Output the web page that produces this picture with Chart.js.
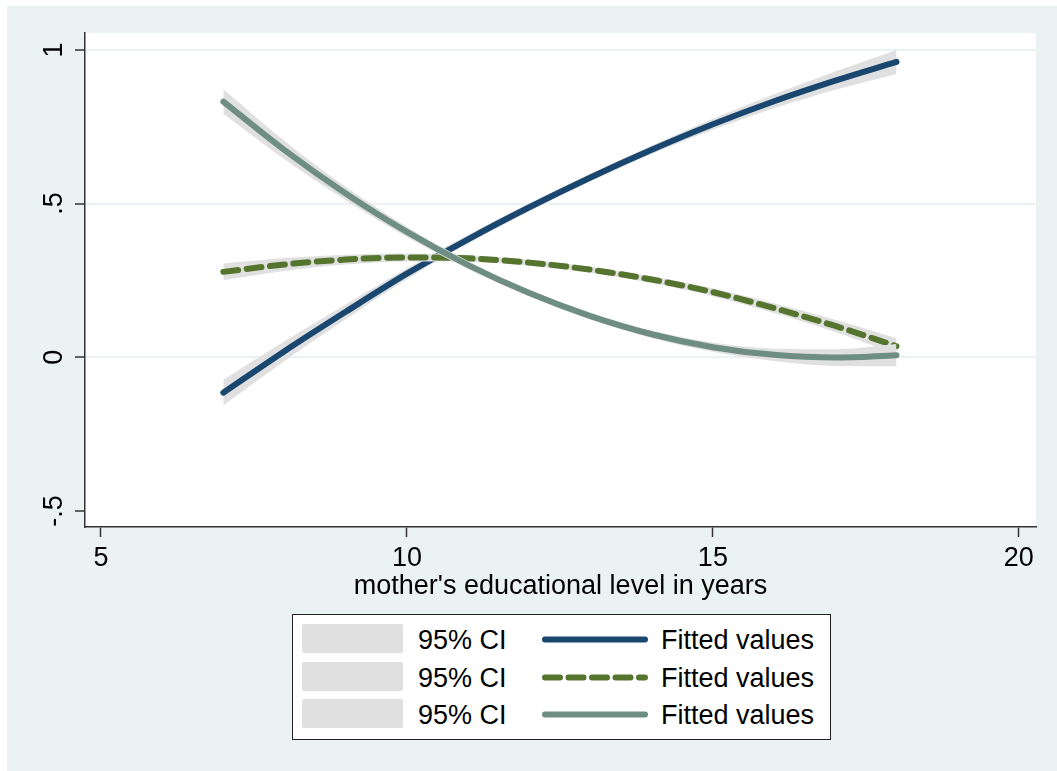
<!DOCTYPE html>
<html>
<head>
<meta charset="utf-8">
<title>Fitted values by mother's education</title>
<script src="https://cdn.jsdelivr.net/npm/chart.js@4.4.0/dist/chart.umd.min.js"></script>
<style>
  body { margin: 0; background: #fff; font-family: "Liberation Sans", Arial, sans-serif; }
  #frame { position: absolute; left: 7px; top: 6px; width: 1050px; height: 765px; background: #eaf2f3; }
  #chart { position: absolute; left: 0; top: 0; }
  #legend { position: absolute; left: 292px; top: 614px; width: 537px; height: 124px; background: #fff; border: 1px solid #222; }
  .row { position: absolute; left: 0; width: 100%; height: 29px; }
  .swatch { position: absolute; left: 9px; top: 0; width: 101px; height: 29px; background: #e0e0e0; border-radius: 2px; }
  .label { position: absolute; top: 2px; line-height: 29px; font-size: 27px; color: #000; white-space: nowrap; }
  .sample { position: absolute; left: 249px; top: 0; }
</style>
</head>
<body>
<div id="frame"></div>
<canvas id="chart" width="1057" height="600"></canvas>
<div id="legend"></div>

<script>
// mother's years of education (x) and the three quadratic fits with their 95% bands
const years = [7, 8, 9, 10, 11, 12, 13, 14, 15, 16, 17, 18]

const fitNavy    = [-0.115, 0.020, 0.148, 0.272, 0.384, 0.488, 0.585, 0.675, 0.758, 0.833, 0.900, 0.961]
const ciNavyLow  = [-0.157, -0.012, 0.124, 0.254, 0.370, 0.476, 0.573, 0.661, 0.740, 0.810, 0.870, 0.922]
const ciNavyHigh = [-0.073, 0.052, 0.172, 0.290, 0.398, 0.500, 0.597, 0.689, 0.776, 0.856, 0.930, 1.000]

const fitGreen    = [0.278, 0.302, 0.318, 0.325, 0.322, 0.308, 0.285, 0.253, 0.212, 0.160, 0.102, 0.036]
const ciGreenLow  = [0.251, 0.281, 0.302, 0.312, 0.311, 0.298, 0.275, 0.242, 0.199, 0.144, 0.082, 0.010]
const ciGreenHigh = [0.305, 0.323, 0.334, 0.338, 0.333, 0.318, 0.295, 0.264, 0.225, 0.176, 0.122, 0.062]

const fitTeal    = [0.832, 0.674, 0.533, 0.408, 0.300, 0.209, 0.134, 0.075, 0.033, 0.008, -0.001, 0.007]
const ciTealLow  = [0.792, 0.644, 0.511, 0.391, 0.287, 0.198, 0.123, 0.063, 0.018, -0.012, -0.028, -0.029]
const ciTealHigh = [0.872, 0.704, 0.555, 0.425, 0.313, 0.220, 0.145, 0.087, 0.048, 0.028, 0.026, 0.043]

const xTicks = [5, 10, 15, 20]
const yTicks = [-0.5, 0, 0.5, 1]
const yTickLabels = ["-.5", "0", ".5", "1"]

const ciLabel = "95% CI"
const fitLabel = "Fitted values"

const NAVY = "#1a476f"
const GREEN = "#55752f"
const TEAL = "#6e8e84"
const CI_GRAY = "#e0e0e0"
const GREEN_DASH = [15, 8.5]

const FONT = "'Liberation Sans', Arial, sans-serif"

const pts = (ys) => years.map((x, i) => ({ x: x, y: ys[i] }))

// lower edge (invisible) + upper edge filled down to it
const band = (lo, hi, order) => [
    { data: pts(lo), borderWidth: 0, pointRadius: 0, fill: false, order: order + 1,
      cubicInterpolationMode: "monotone" },
    { data: pts(hi), borderWidth: 0, pointRadius: 0, fill: "-1", backgroundColor: CI_GRAY,
      order: order, cubicInterpolationMode: "monotone" }
]

const fit = (ys, color, dash, order) => ({
    data: pts(ys), borderColor: color, borderWidth: 6, borderDash: dash,
    borderCapStyle: "round", borderJoinStyle: "round",
    pointRadius: 0, fill: false, order: order, cubicInterpolationMode: "monotone"
})

const plotBackground = {
    id: "plotBackground",
    beforeDraw(chart) {
        const { ctx, chartArea: a } = chart
        ctx.save()
        ctx.fillStyle = "#fff"
        ctx.fillRect(a.left, a.top, a.right - a.left, a.bottom - a.top)
        ctx.restore()
    }
}

const chart = new Chart("chart", {
    type: "line",
    data: {
        datasets: [
            ...band(ciNavyLow, ciNavyHigh, 8),
            fit(fitNavy, NAVY, [], 7),
            ...band(ciGreenLow, ciGreenHigh, 5),
            fit(fitGreen, GREEN, GREEN_DASH, 4),
            ...band(ciTealLow, ciTealHigh, 2),
            fit(fitTeal, TEAL, [], 1)
        ]
    },
    plugins: [plotBackground],
    options: {
        responsive: false,
        animation: false,
        layout: { padding: { left: 0, top: 33, right: 21, bottom: 0 } },
        plugins: {
            legend: { display: false },
            tooltip: { enabled: false },
            filler: { propagate: false }
        },
        scales: {
            x: {
                type: "linear",
                min: 4.74,
                max: 20.28,
                afterBuildTicks: (s) => { s.ticks = xTicks.map(v => ({ value: v })) },
                afterFit: (s) => { s.height = 73 },
                border: { display: true, color: "#333", width: 1.5 },
                grid: { drawOnChartArea: false, drawTicks: true, tickLength: 10, tickColor: "#333", tickWidth: 1.5 },
                ticks: { color: "#000", padding: 5, maxRotation: 0, font: { family: FONT, size: 27 } },
                title: {
                    display: true,
                    text: "mother's educational level in years",
                    color: "#000",
                    padding: { top: 0, bottom: 0 },
                    font: { family: FONT, size: 27, lineHeight: 1.0 }
                }
            },
            y: {
                min: -0.552,
                max: 1.055,
                afterBuildTicks: (s) => { s.ticks = yTicks.map(v => ({ value: v })) },
                afterFit: (s) => { s.width = 85 },
                border: { display: true, color: "#333", width: 1.5 },
                grid: {
                    color: (c) => (c.tick && c.tick.value === -0.5) ? "rgba(0,0,0,0)" : "#eaf2f3",
                    lineWidth: 2,
                    tickLength: 10,
                    tickColor: "#333",
                    tickWidth: 1.5
                },
                ticks: {
                    color: "#000",
                    padding: 5,
                    minRotation: 90,
                    maxRotation: 90,
                    crossAlign: "center",
                    font: { family: FONT, size: 27 },
                    callback: (v) => yTickLabels[yTicks.indexOf(v)]
                }
            }
        }
    }
})

// legend: CI swatch + label, line sample + label, one row per fit
const legendRows = [
    { color: NAVY, dash: [] },
    { color: GREEN, dash: GREEN_DASH },
    { color: TEAL, dash: [] }
]
const rowTops = [9, 47, 84]
const legend = document.getElementById("legend")

legendRows.forEach((r, i) => {
    const row = document.createElement("div")
    row.className = "row"
    row.style.top = rowTops[i] + "px"
    const dash = r.dash.length ? ` stroke-dasharray="${r.dash.join(" ")}"` : ""
    row.innerHTML =
        `<div class="swatch"></div>` +
        `<div class="label" style="left:125px">${ciLabel}</div>` +
        `<svg class="sample" width="106" height="29"><line x1="3" y1="15.5" x2="103" y2="15.5" ` +
        `stroke="${r.color}" stroke-width="6" stroke-linecap="round"${dash}/></svg>` +
        `<div class="label" style="left:368px">${fitLabel}</div>`
    legend.appendChild(row)
})
</script>
</body>
</html>
